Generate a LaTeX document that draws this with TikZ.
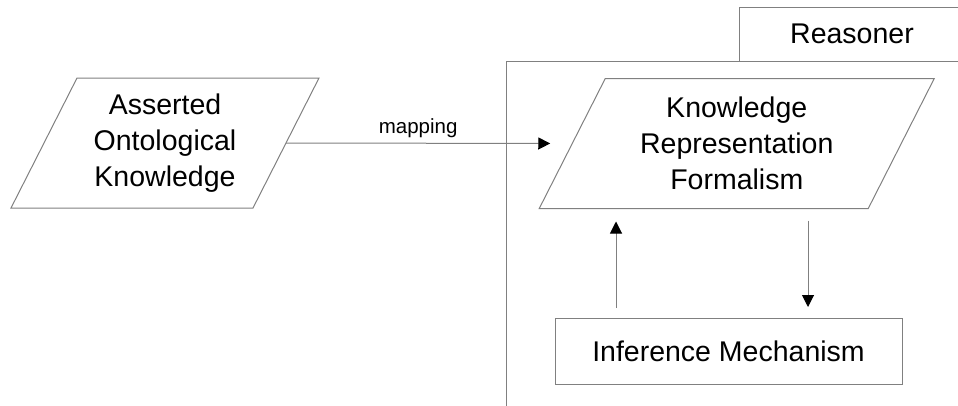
\documentclass[tikz,border=0pt]{standalone}
\usepackage{fontspec}
\setmainfont{Liberation Sans}
\usetikzlibrary{arrows.meta,calc}
\definecolor{linegray}{RGB}{128,128,128}
\begin{document}
\begin{tikzpicture}[x=1pt,y=-1pt,
  every node/.style={inner sep=0pt,outer sep=0pt},
  bigtext/.style={font=\fontsize{28.5}{36}\selectfont, align=center},
  plain/.style={draw=linegray, line width=1pt},
  arr/.style={draw=linegray, line width=1pt, -{Triangle[length=12pt,width=12pt,black]}},
  para/.style={minimum width=#1, minimum height=130pt}
]
\useasboundingbox (0,0) rectangle (958,405);
% nodes
\node[bigtext, para=242pt] (aok) at (165,143) {Asserted\\Ontological\\Knowledge};
\node[bigtext, para=329pt] (krf) at (736.75,143.5) {Knowledge\\Representation\\Formalism};
\node[bigtext, plain, minimum width=347pt, minimum height=66pt] (im) at (728.5,351) {Inference Mechanism};
\node[bigtext, plain, minimum width=226pt, minimum height=54pt, anchor=west] (rs) at (739,34) {Reasoner};
% parallelograms
\draw[plain] ($(aok.north west)+(33,0)$) -- ($(aok.north east)+(33,0)$) -- ($(aok.south east)+(-33,0)$) -- ($(aok.south west)+(-33,0)$) -- cycle;
\draw[plain] ($(krf.north west)+(33,0)$) -- ($(krf.north east)+(33,0)$) -- ($(krf.south east)+(-33,0)$) -- ($(krf.south west)+(-33,0)$) -- cycle;
% frame
\coordinate (fb) at (506,410);
\draw[plain] (fb) |- (rs.south east);
% connectors
\draw[arr, shorten >=22pt] (aok.east) -- node[above=6pt, font=\fontsize{20.5}{24}\selectfont, xshift=-11pt] (map) {mapping} (krf.west);
\coordinate (upx) at (616,0);
\coordinate (dnx) at (808,0);
\draw[arr, shorten <=10pt, shorten >=13pt] (im.north -| upx) -- (krf.south -| upx);
\draw[arr, shorten <=12pt, shorten >=11pt] (krf.south -| dnx) -- (im.north -| dnx);
\end{tikzpicture}
\end{document}
